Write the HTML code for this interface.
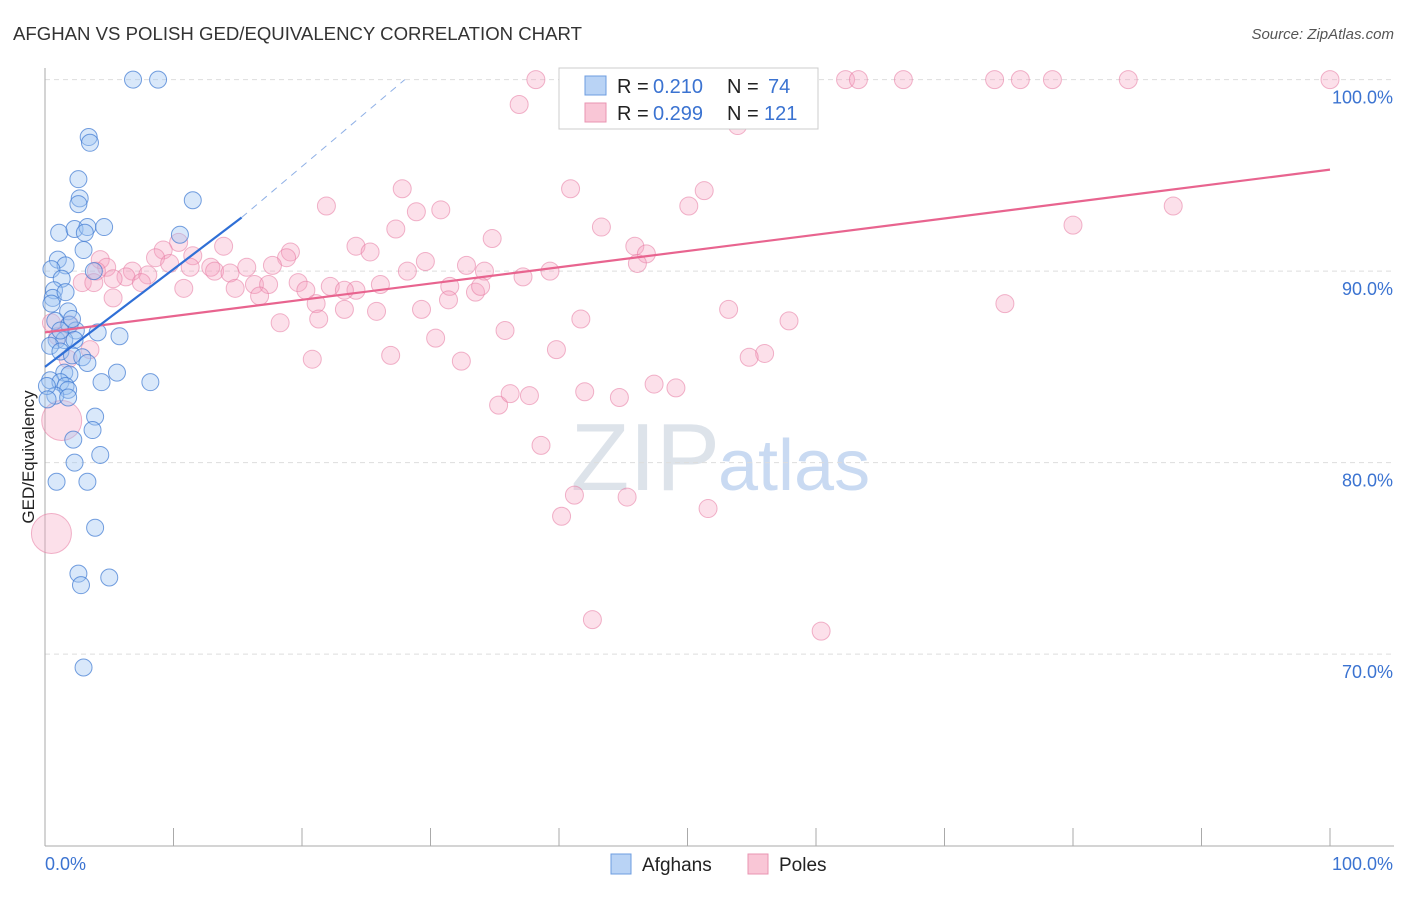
<!DOCTYPE html>
<html><head><meta charset="utf-8"><style>
body{margin:0;background:#fff;font-family:"Liberation Sans",sans-serif;}
svg text{font-family:"Liberation Sans",sans-serif;}
</style></head><body>
<svg id="chart" width="1406" height="892" xmlns="http://www.w3.org/2000/svg">
<text x="13" y="40" font-size="18.6" fill="#333">AFGHAN VS POLISH GED/EQUIVALENCY CORRELATION CHART</text>
<text x="1394" y="39" font-size="15" fill="#555" text-anchor="end" font-style="italic">Source: ZipAtlas.com</text>
<text x="720" y="490" font-size="96" fill="#dde3ea" text-anchor="end" font-family="Liberation Serif">ZIP</text>
<text x="718" y="490" font-size="72" fill="#c9daf2">atlas</text>
<text transform="translate(34,457) rotate(-90)" font-size="17" fill="#222" text-anchor="middle">GED/Equivalency</text>
<g id="grid"></g><g id="pts"></g><g id="lines"></g>
<g>
<rect x="559" y="68" width="259" height="61" fill="#fff" stroke="#ccc"/>
<rect x="585" y="76" width="21" height="19" fill="#b9d3f5" stroke="#6d9de0"/>
<rect x="585" y="103" width="21" height="19" fill="#f9c6d6" stroke="#e994b2"/>
<text x="617" y="93" font-size="20" fill="#222">R = </text><text x="653" y="93" font-size="20" fill="#3b73d1">0.210</text>
<text x="727" y="93" font-size="20" fill="#222">N = </text><text x="768" y="93" font-size="20" fill="#3b73d1">74</text>
<text x="617" y="120" font-size="20" fill="#222">R = </text><text x="653" y="120" font-size="20" fill="#3b73d1">0.299</text>
<text x="727" y="120" font-size="20" fill="#222">N = </text><text x="764" y="120" font-size="20" fill="#3b73d1">121</text>
</g>
<g>
<rect x="611" y="854" width="20" height="20" fill="#b9d3f5" stroke="#6d9de0"/>
<text x="642" y="871" font-size="19" fill="#222">Afghans</text>
<rect x="748" y="854" width="20" height="20" fill="#f9c6d6" stroke="#e994b2"/>
<text x="779" y="871" font-size="19" fill="#222">Poles</text>
</g>
</svg>
<script>
const yTicks=[100,90,80,70];
const yTickLabels=["100.0%","90.0%","80.0%","70.0%"];
const xTickLabels=["0.0%","100.0%"];
const afghanX=[6.85,8.8,3.4,3.5,2.6,2.7,2.6,11.5,1.1,2.3,3.3,4.6,10.5,3.0,3.1,1.0,1.6,0.5,3.8,1.3,0.7,0.6,1.6,0.5,1.8,0.8,1.9,2.4,4.1,5.8,0.9,1.5,2.3,0.4,1.2,2.1,2.9,3.3,1.5,1.9,5.6,0.4,1.2,1.6,4.4,8.2,1.8,0.8,1.8,3.9,3.7,2.2,4.3,2.3,0.9,3.3,3.9,2.6,2.8,5.0,3.0,0.15,0.2,1.2,2.1];
const afghanY=[100,100,97.0,96.7,94.8,93.8,93.5,93.7,92.0,92.2,92.3,92.3,91.9,91.1,92.0,90.6,90.3,90.1,90.0,89.6,89.0,88.6,88.9,88.3,87.9,87.4,87.2,86.9,86.8,86.6,86.4,86.4,86.4,86.1,85.8,85.6,85.5,85.2,84.7,84.6,84.7,84.3,84.2,84.0,84.2,84.2,83.8,83.5,83.4,82.4,81.7,81.2,80.4,80.0,79.0,79.0,76.6,74.2,73.6,74.0,69.3,84.0,83.3,86.9,87.5];
const polishX=[38.2,47.9,48.2,50.2,62.3,63.3,66.8,73.9,75.9,78.4,84.3,100,36.9,53.8,53.9,27.8,40.9,51.3,21.9,28.9,30.8,50.1,87.8,80.0,43.3,27.3,24.2,25.3,34.8,45.9,46.8,10.4,9.2,13.9,8.6,11.5,19.1,18.8,46.1,4.3,4.8,4.0,6.8,8.0,6.3,5.3,9.7,11.3,12.9,13.2,14.4,15.7,17.7,29.6,32.8,34.2,39.3,28.2,37.2,2.9,3.8,7.5,10.8,14.8,16.3,17.4,19.7,20.3,22.2,24.2,26.1,23.3,33.5,33.9,31.5,16.7,31.4,74.7,5.3,21.1,23.3,25.8,29.3,53.2,18.3,21.3,41.7,57.9,35.8,30.4,39.8,56.0,54.8,20.8,26.9,32.4,1.0,0.5,1.9,42.0,44.7,47.4,49.1,35.3,36.2,37.7,38.6,1.3,0.5,41.2,45.3,51.6,40.2,42.6,60.4,3.5,1.8];
const polishY=[100,100,100,100,100,100,100,100,100,100,100,100,98.7,98.3,97.6,94.3,94.3,94.2,93.4,93.1,93.2,93.4,93.4,92.4,92.3,92.2,91.3,91.0,91.7,91.3,90.9,91.5,91.1,91.3,90.7,90.8,91.0,90.7,90.4,90.6,90.2,90.0,90.0,89.8,89.7,89.6,90.4,90.2,90.2,90.0,89.9,90.2,90.3,90.5,90.3,90.0,90.0,90.0,89.7,89.4,89.4,89.4,89.1,89.1,89.3,89.3,89.4,89.0,89.2,89.0,89.3,89.0,88.9,89.2,89.2,88.7,88.5,88.3,88.6,88.3,88.0,87.9,88.0,88.0,87.3,87.5,87.5,87.4,86.9,86.5,85.9,85.7,85.5,85.4,85.6,85.3,86.6,87.3,87.2,83.7,83.4,84.1,83.9,83.0,83.6,83.5,80.9,82.2,76.3,78.3,78.2,77.6,77.2,71.8,71.2,85.9,85.4];
const afghanTrend=[[0,85.0],[15.3,92.8]];
const afghanTrendExt=[[15.3,92.8],[28,100]];
const polishTrend=[[0,86.8],[100,95.3]];
const NS="http://www.w3.org/2000/svg";
const sx=v=>45+v*12.85, sy=v=>79.6+(100-v)*19.15;
function mk(t,a,p){const e=document.createElementNS(NS,t);for(const k in a)e.setAttribute(k,a[k]);p.appendChild(e);return e;}
const grid=document.getElementById('grid');
yTicks.forEach((t,i)=>{
  const l=mk('line',{x1:45,x2:1394,y1:sy(t),y2:sy(t),stroke:'#ddd','stroke-dasharray':'5,4'},grid);
  
  
  const tx=mk('text',{x:1393,y:sy(t)+24,'font-size':18,fill:'#3b73d1','text-anchor':'end'},grid);
  tx.textContent=yTickLabels[i];
  
  
});
const ax=mk('line',{x1:45,x2:45,y1:68,y2:846,stroke:'#aaa'},grid);


const bx=mk('line',{x1:45,x2:1394,y1:846,y2:846,stroke:'#aaa'},grid);


for(let i=1;i<=10;i++){const t=mk('line',{x1:sx(i*10),x2:sx(i*10),y1:828,y2:846,stroke:'#aaa'},grid);

}
const xl0=mk('text',{x:45,y:870,'font-size':18,fill:'#3b73d1'},grid);xl0.textContent=xTickLabels[0];


const xl1=mk('text',{x:1393,y:870,'font-size':18,fill:'#3b73d1','text-anchor':'end'},grid);xl1.textContent=xTickLabels[1];


const pts=document.getElementById('pts');
polishX.forEach((x,i)=>{let r=9;if(x<1.5&&polishY[i]<83)r=20;
  const c=mk('circle',{cx:sx(x),cy:sy(polishY[i]),r:r,fill:'rgba(245,160,190,0.33)',stroke:'rgba(230,120,160,0.55)'},pts);
  
  });
afghanX.forEach((x,i)=>{
  const c=mk('circle',{cx:sx(x),cy:sy(afghanY[i]),r:8.5,fill:'rgba(160,198,242,0.4)',stroke:'rgba(60,120,210,0.7)'},pts);
  
  });
const lines=document.getElementById('lines');
const l1=mk('line',{x1:sx(polishTrend[0][0]),y1:sy(polishTrend[0][1]),x2:sx(polishTrend[1][0]),y2:sy(polishTrend[1][1]),stroke:'#e8648f','stroke-width':2.2},lines);


const l2=mk('line',{x1:sx(afghanTrend[0][0]),y1:sy(afghanTrend[0][1]),x2:sx(afghanTrend[1][0]),y2:sy(afghanTrend[1][1]),stroke:'#2f6fd6','stroke-width':2.2},lines);


const l3=mk('line',{x1:sx(afghanTrendExt[0][0]),y1:sy(afghanTrendExt[0][1]),x2:sx(afghanTrendExt[1][0]),y2:sy(afghanTrendExt[1][1]),stroke:'#8fb0e6','stroke-width':1,'stroke-dasharray':'7,6'},lines);


</script>
</body></html>
